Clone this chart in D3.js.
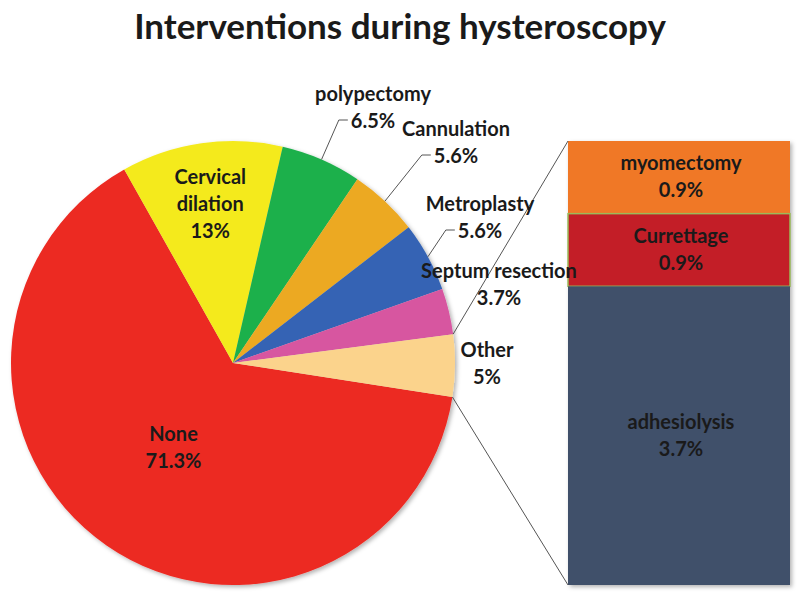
<!DOCTYPE html>
<html>
<head>
<meta charset="utf-8">
<script src="https://cdn.jsdelivr.net/npm/d3@7"></script>
<style>
  body { margin: 0; background: #fff; }
  text { font-family: Lato, "Open Sans", sans-serif; font-weight: bold; fill: #1a1a1a; }
</style>
</head>
<body>
<script>
// DATA
const pieLabels = ["None", "Cervical dilation", "polypectomy", "Cannulation", "Metroplasty", "Septum resection", "Other"];
const pieValues = [71.3, 13, 6.5, 5.6, 5.6, 3.7, 5];
const pieColors = ["#ec2a24", "#f4ea1f", "#1fb04c", "#eca924", "#3464b4", "#d757a0", "#fbd38c"];

const barLabels = ["myomectomy", "Currettage", "adhesiolysis"];
const barValues = [0.9, 0.9, 3.7];
const barColors = ["#f07826", "#c31e27", "#40506a"];

// LAYOUT
const width = 800, height = 597;
const cx = 233, cy = 363, r = 222;
const bar = {x: 568, y: 141, w: 222, h: 444};
const lineH = 27;
const fontSize = "20px";

// label boxes for outside labels (center x, first line baseline)
const outsideLabels = {
  "polypectomy":      {x: 373, y: 101, leader: true},
  "Cannulation":      {x: 456, y: 136, leader: true},
  "Metroplasty":      {x: 480, y: 211, leader: true},
  "Septum resection": {x: 499, y: 278, leader: false},
  "Other":            {x: 487, y: 357, leader: false}
};
const insideLabels = {
  "None": 0.47,
  "Cervical dilation": 0.72
};

const svg = d3.select("body").append("svg")
  .attr("width", width)
  .attr("height", height);

const defs = svg.append("defs");
defs.append("filter").attr("id", "shadow")
  .attr("x", "-10%").attr("y", "-10%").attr("width", "120%").attr("height", "120%")
  .append("feDropShadow")
  .attr("dx", 2).attr("dy", 2).attr("stdDeviation", 2)
  .attr("flood-color", "#000").attr("flood-opacity", 0.3);

// TITLE
svg.append("text")
  .attr("x", 400)
  .attr("y", 39)
  .attr("text-anchor", "middle")
  .style("font-size", "35px")
  .text("Interventions during hysteroscopy");

// PIE
const startA = 98.8 * Math.PI / 180;
const pie = d3.pie().sort(null).startAngle(startA).endAngle(startA + 2 * Math.PI);
const arcs = pie(pieValues);
const arc = d3.arc().innerRadius(0).outerRadius(r);

const g = svg.append("g").attr("transform", `translate(${cx},${cy})`);

g.append("g").attr("filter", "url(#shadow)")
  .selectAll("path")
  .data(arcs)
  .join("path")
  .attr("d", arc)
  .attr("fill", (d, i) => pieColors[i]);

function edgePoint(a, rad) {
  return [Math.sin(a) * rad, -Math.cos(a) * rad];
}

// STACKED BAR
const total = d3.sum(barValues);
const yScale = d3.scaleLinear().domain([0, total]).range([bar.y, bar.y + bar.h]);
const cum = d3.cumsum(barValues);
const segs = barValues.map((v, i) => ({label: barLabels[i], v, y0: cum[i] - v, y1: cum[i], color: barColors[i]}));

const bg = svg.append("g");
bg.append("rect")
  .attr("x", bar.x).attr("y", bar.y).attr("width", bar.w).attr("height", bar.h)
  .attr("fill", "#fff").attr("filter", "url(#shadow)");
bg.selectAll("rect.seg")
  .data(segs)
  .join("rect")
  .attr("class", "seg")
  .attr("x", bar.x)
  .attr("y", d => yScale(d.y0))
  .attr("width", bar.w)
  .attr("height", d => yScale(d.y1) - yScale(d.y0))
  .attr("fill", d => d.color)
  .attr("stroke", d => d.label === "Currettage" ? "#9bbb59" : "none")
  .attr("stroke-width", 1.5);

bg.selectAll("text.seg")
  .data(segs)
  .join("text")
  .attr("class", "seg")
  .attr("text-anchor", "middle")
  .style("font-size", fontSize)
  .each(function(d) {
    const mid = (yScale(d.y0) + yScale(d.y1)) / 2;
    const t = d3.select(this);
    t.append("tspan").attr("x", bar.x + bar.w / 2 + 2).attr("y", mid - 7).text(d.label);
    t.append("tspan").attr("x", bar.x + bar.w / 2 + 2).attr("y", mid + 20).text(d.v + "%");
  });

// CONNECTOR LINES FROM "Other" SLICE
const other = arcs[pieLabels.indexOf("Other")];
const pTop = edgePoint(other.startAngle, r);
const pBot = edgePoint(other.endAngle, r);
svg.append("line")
  .attr("x1", cx + pTop[0]).attr("y1", cy + pTop[1])
  .attr("x2", bar.x).attr("y2", bar.y)
  .attr("stroke", "#555").attr("stroke-width", 1);
svg.append("line")
  .attr("x1", cx + pBot[0]).attr("y1", cy + pBot[1])
  .attr("x2", bar.x).attr("y2", bar.y + bar.h)
  .attr("stroke", "#555").attr("stroke-width", 1);

// PIE LABELS
arcs.forEach((d, i) => {
  const name = pieLabels[i];
  const mid = (d.startAngle + d.endAngle) / 2;
  const lines = [name, d3.format("")(pieValues[i]) + "%"];
  if (name === "Cervical dilation") lines.splice(0, 1, "Cervical", "dilation");
  let x, y0;
  if (insideLabels[name] !== undefined) {
    const p = edgePoint(mid, r * insideLabels[name]);
    x = cx + p[0];
    y0 = cy + p[1] - (lines.length - 1) * lineH / 2 + 6;
  } else {
    const o = outsideLabels[name];
    x = o.x; y0 = o.y;
  }
  const t = svg.append("text")
    .attr("text-anchor", "middle")
    .style("font-size", fontSize);
  lines.forEach((l, j) => {
    t.append("tspan").attr("x", x).attr("y", y0 + j * lineH).text(l);
  });
  if (outsideLabels[name] && outsideLabels[name].leader) {
    const pct = t.selectAll("tspan").filter((_, j) => j === 1).node().getBBox();
    const p = edgePoint(mid, r);
    const ex = pct.x - 3, ey = pct.y + pct.height / 2;
    svg.append("polyline")
      .attr("points", [[cx + p[0], cy + p[1]], [ex - 9, ey], [ex, ey]].map(q => q.join(",")).join(" "))
      .attr("fill", "none")
      .attr("stroke", "#555")
      .attr("stroke-width", 1);
  }
});
</script>
</body>
</html>
